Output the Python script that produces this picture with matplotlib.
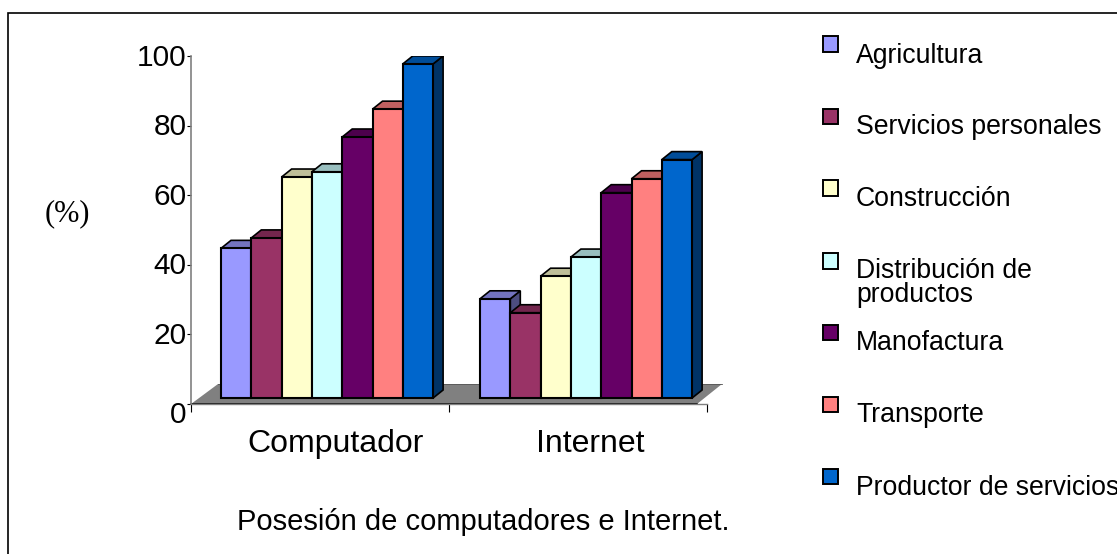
# -*- coding: utf-8 -*-
import matplotlib
matplotlib.use('Agg')
import matplotlib.pyplot as plt
from matplotlib.patches import Polygon, Rectangle
from matplotlib.transforms import ScaledTranslation

plt.rcParams['font.family'] = ['Liberation Sans', 'DejaVu Sans']

categories = ['Computador', 'Internet']
sectors = ['Agricultura', 'Servicios personales', 'Construcción',
           'Distribución de\nproductos', 'Manofactura', 'Transporte',
           'Productor de servicios']
computador = [43, 46, 63.5, 65, 75, 83, 96]
internet = [28.5, 24.5, 35, 40.5, 59, 63, 68.5]
colors = ['#9999FF', '#993366', '#FFFFCC', '#CCFFFF', '#660066', '#FF8080', '#0066CC']
y_ticks = [0, 20, 40, 60, 80, 100]

W, H = 1117, 554
fig = plt.figure(figsize=(W / 100, H / 100), dpi=100)
ax = fig.add_axes([191 / W, 1 - 404 / H, 516 / W, 348 / H])
ax.set_xlim(0, 2)
ax.set_ylim(0, 100)

# pixel sizes of the fake 3d effect, turned into data units
px_x = 2 / 516
px_y = 100 / 348
bar_w = 30.3 * px_x
dx, dy = 10 * px_x, 8 * px_y
base = 6 * px_y


def shade(color, f):
    r, g, b = matplotlib.colors.to_rgb(color)
    return (r * f, g * f, b * f)


# grey floor
floor = Polygon([(0, 0), (506 * px_x, 0), (531 * px_x, 20 * px_y), (27 * px_x, 20 * px_y)],
                closed=True, fc='#808080', ec='none', zorder=1, clip_on=False)
ax.add_patch(floor)
ax.plot([0, 506 * px_x], [0, 0], color='black', lw=1.1, zorder=2, clip_on=False)
ax.plot([27 * px_x, 531 * px_x], [20 * px_y, 20 * px_y], color='#555555', lw=0.6, zorder=1,
        clip_on=False)

starts = [30 * px_x, 289 * px_x]
for start, values in zip(starts, [computador, internet]):
    for i, v in enumerate(values):
        x0 = start + i * bar_w
        x1 = x0 + bar_w
        top = base + v
        z = 3 + i
        ax.add_patch(Polygon([(x1, base), (x1 + dx, base + dy), (x1 + dx, top + dy), (x1, top)],
                             closed=True, fc=shade(colors[i], 0.5), ec='black', lw=1.2, zorder=z))
        ax.add_patch(Polygon([(x0, top), (x0 + dx, top + dy), (x1 + dx, top + dy), (x1, top)],
                             closed=True, fc=shade(colors[i], 0.75), ec='black', lw=1.2, zorder=z))
        ax.bar(x0, v, width=bar_w, bottom=base, align='edge', color=colors[i],
               edgecolor='black', linewidth=1.5, zorder=z + 0.5)

ax.set_yticks(y_ticks)
ax.set_xticks([0, 1, 2])
ax.set_xticklabels([])
ax.set_xticks([0.56, 1.547], minor=True)
ax.set_xticklabels(categories, minor=True, fontsize=23)
ax.tick_params(axis='x', which='minor', length=0, pad=18)
ax.tick_params(axis='x', which='major', length=6, width=0.8, color='black', direction='out')
ax.tick_params(axis='y', length=3, width=0.8, color='black', labelsize=21.5, pad=0)
# the zero sits well below its tick, the others just a little
for lab, val in zip(ax.get_yticklabels(), y_ticks):
    shift = -11 if val == 0 else -1.5
    lab.set_verticalalignment('center')
    lab.set_transform(lab.get_transform() + ScaledTranslation(0, shift / 100, fig.dpi_scale_trans))
for name in ['top', 'right']:
    ax.spines[name].set_visible(False)
ax.spines['left'].set_color('#808080')
ax.spines['left'].set_linewidth(1.2)
ax.spines['bottom'].set_color('#808080')
ax.spines['bottom'].set_linewidth(1.0)
ax.set_facecolor('none')


def px(x, y):
    return x / W, 1 - y / H


# outer frame runs past the right and bottom edges
fig.add_artist(Rectangle(px(7.5, 600), 1200 / W, (600 - 12.5) / H, transform=fig.transFigure,
                         fc='none', ec='black', lw=1.2, zorder=10))

# legend
key_y = [44, 116, 188, 261, 332, 404, 476]
text_y = [56, 127, 199, 283, 343, 415, 488]
for name, c, ky, ty in zip(sectors, colors, key_y, text_y):
    x, y = px(823, ky + 7.5)
    fig.add_artist(Rectangle((x, y), 15 / W, 15 / H, transform=fig.transFigure,
                             fc=c, ec='black', lw=1.4))
    fig.text(*px(856, ty), name, fontsize=19.2, va='center', ha='left', linespacing=0.92)

fig.text(*px(483, 522), 'Posesión de computadores e Internet.', fontsize=21, ha='center', va='center')
fig.text(*px(67, 214), '(%)', fontsize=22, family='Liberation Serif', ha='center', va='center')

fig.savefig('out.png', dpi=100)
